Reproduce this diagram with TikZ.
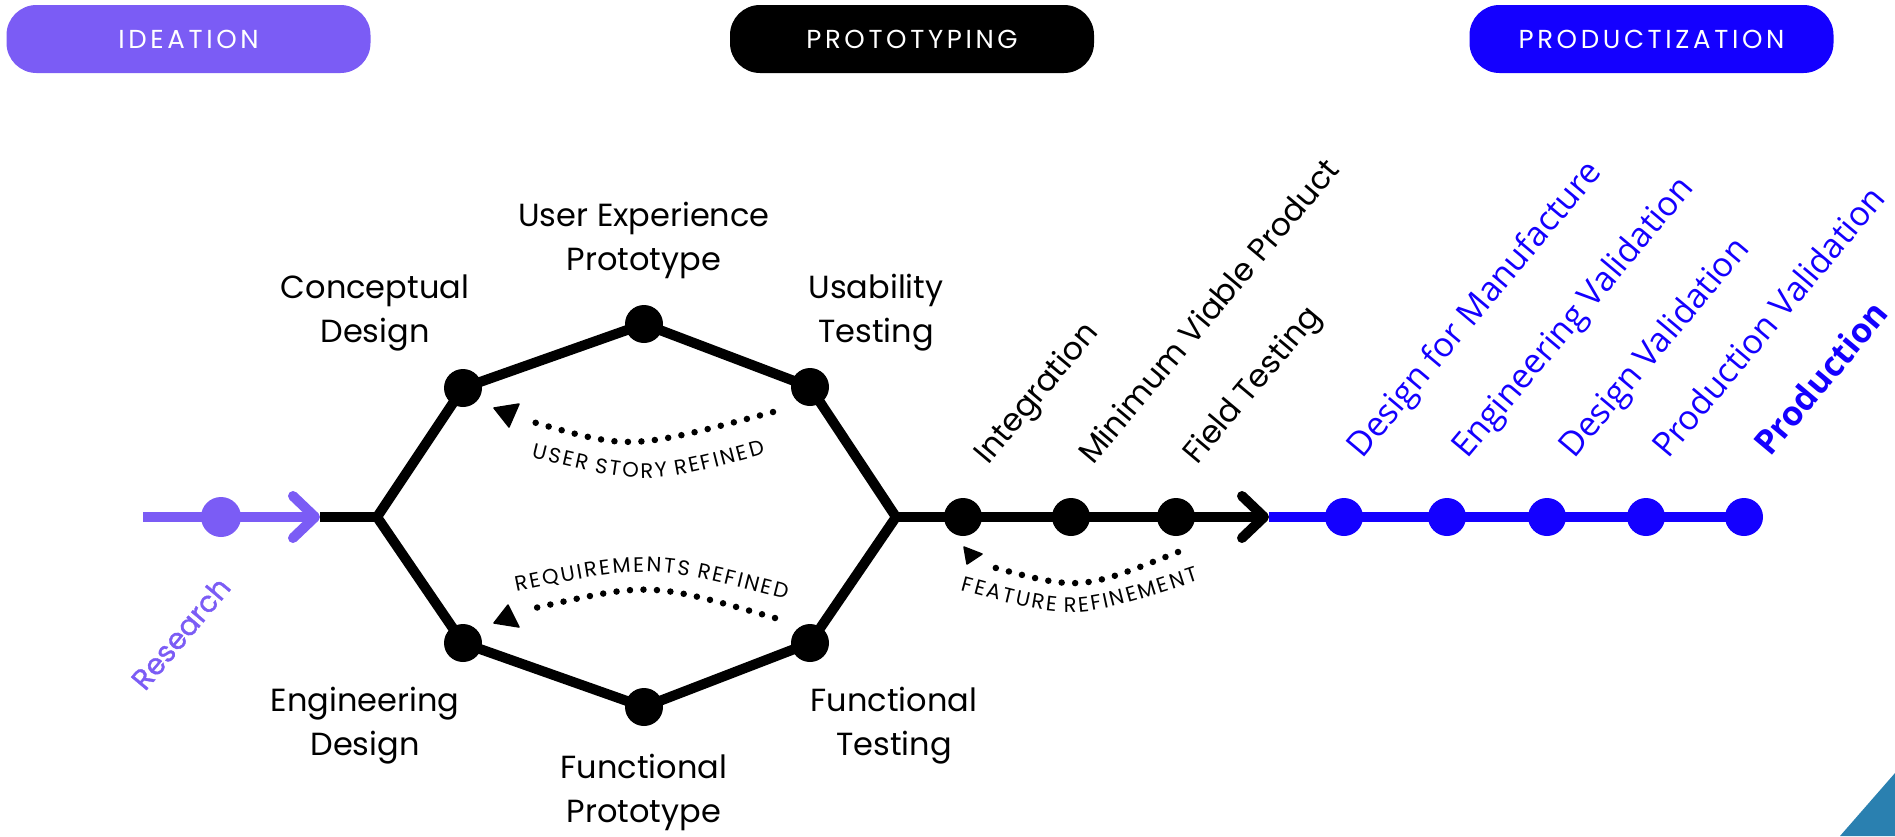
\documentclass[tikz,border=0pt]{standalone}
\usepackage{fontspec}
\setmainfont{Poppins}
\newfontfamily\lab{Poppins}
\newfontfamily\labm[FakeBold=1.2]{Poppins}
\newfontfamily\blu{Open Sans}
\newfontfamily\pillf[LetterSpace=14]{Poppins}
\newfontfamily\arcf{Poppins}
\newcommand\lk{\kern2.2pt}
\usetikzlibrary{arrows.meta,decorations.text,backgrounds}
\definecolor{ideaC}{HTML}{7B5CF5}
\definecolor{prodC}{HTML}{1400FF}
\definecolor{cornerC}{HTML}{2A80B0}
\begin{document}
\begin{tikzpicture}[x=1pt,y=-1pt,
  lbl/.style={font=\lab\fontsize{32}{44}\selectfont, align=center, text=black, inner sep=0pt},
  rlbl/.style={font=\lab\fontsize{31.5}{36}\selectfont, anchor=base west, rotate=50, inner sep=0pt},
  blbl/.style={font=\blu\fontsize{34}{40}\selectfont, text=prodC, anchor=base west, rotate=50, inner sep=0pt},
  pillbox/.style={rounded corners=30pt, minimum width=364pt, minimum height=68pt, text=white, inner sep=0pt, font=\pillf\fontsize{26}{30}\selectfont},
  bdot/.style={circle, fill=black, minimum size=38pt, inner sep=0pt},
  edge/.style={line width=10pt},
  dots/.style={line width=6.5pt, line cap=round, dash pattern=on 0pt off 13.5pt},
  tri/.style={fill=black, line join=round, draw=black, line width=1.5pt},
  barb/.style={-{Straight Barb[length=22pt,width=42pt,round]}}
]
\useasboundingbox (0,0) rectangle (1895,836);
% corner triangle
\fill[cornerC] (1895,773) -- (1840,836) -- (1895,836) -- cycle;

% phase pills
\node[pillbox, fill=ideaC] (pIdea) at (188.5,39) {IDEATION};
\node[pillbox, fill=black] (pProto) at (912,39) {PROTOTYPING};
\node[pillbox, fill=prodC] (pProd) at (1651.5,39) {PRODUCTIZATION};

% key coordinates
\coordinate (cStart) at (143,517);
\coordinate (cTipL) at (320,517);
\coordinate (cLV) at (377,517);
\coordinate (cRV) at (896,517);
\coordinate (cTipR) at (1269,517);

% dots
\node[bdot, fill=ideaC, minimum size=40pt] (nRes) at (221,517) {};
\node[bdot] (nUL) at (463,388) {};
\node[bdot] (nTop) at (644,324) {};
\node[bdot] (nUR) at (810,387) {};
\node[bdot] (nLR) at (810,643) {};
\node[bdot] (nBot) at (644,707) {};
\node[bdot] (nLL) at (463,643) {};
\node[bdot] (nInt) at (963,517) {};
\node[bdot] (nMvp) at (1071,517) {};
\node[bdot] (nField) at (1176,517) {};
\node[bdot, fill=prodC] (nDfm) at (1344,517) {};
\node[bdot, fill=prodC] (nEv) at (1447,517) {};
\node[bdot, fill=prodC] (nDv) at (1547,517) {};
\node[bdot, fill=prodC] (nPv) at (1646,517) {};
\node[bdot, fill=prodC] (nProd) at (1744,517) {};

\begin{scope}[on background layer]
\draw[edge, ideaC, barb] (cStart) -- (cTipL);
\draw[edge] (cTipL) -- (cLV);
\draw[edge, line join=miter] (cLV) -- (nUL.center) -- (nTop.center) -- (nUR.center) -- (cRV)
  -- (nLR.center) -- (nBot.center) -- (nLL.center) -- cycle;
\draw[edge, barb] (cRV) -- (cTipR);
\draw[edge, prodC] (cTipR) -- (nProd.center);
\end{scope}

% hexagon labels
\node[lbl] (tUX) at (644,240) {User Experience\\Prototype};
\node[lbl] (tCD) at (375,313) {Conceptual\\Design};
\node[lbl] (tUT) at (876,313) {Usability\\Testing};
\node[lbl] (tED) at (365,726) {Engineering\\Design};
\node[lbl] (tFT) at (894,726) {Functional\\Testing};
\node[lbl] (tFP) at (644,792) {Functional\\Prototype};

% rotated labels
\node[rlbl, text=ideaC, font=\labm\fontsize{29}{35}\selectfont] (tRes) at (145,692) {Research};
\node[rlbl] (tInt) at (988,466) {Integration};
\node[rlbl] (tMvp) at (1093,466) {Minimum Viable Product};
\node[rlbl] (tFld) at (1197,466) {Field Testing};
\node[blbl] (tDfm) at (1362,460) {Design for Manufacture};
\node[blbl] (tEv) at (1467,460) {Engineering Validation};
\node[blbl] (tDv) at (1574,460) {Design Validation};
\node[blbl] (tPv) at (1668,460) {Production Validation};
\node[blbl, font=\blu\bfseries\fontsize{34}{40}\selectfont] (tProd) at (1770,458) {Production};

% feedback loops
\coordinate (uS) at (773,412); \coordinate (uE) at (533,422);
\draw[dots] (uS) .. controls (630,450) .. (uE);
\path[tri] (494,408) -- (519,404) -- (509,427) -- cycle;
\path[decorate, decoration={text along path, text align=center,
  text={|\arcf\fontsize{21}{24}\selectfont|{U\lk}{S\lk}{E\lk}{R\lk} {S\lk}{T\lk}{O\lk}{R\lk}{Y\lk} {R\lk}{E\lk}{F\lk}{I\lk}{N\lk}{E\lk}D}}]
  (525,456) .. controls (648,486) .. (772,452);

\coordinate (rS) at (775,618); \coordinate (rE) at (535,608);
\draw[dots] (rS) .. controls (650,582) .. (rE);
\path[tri] (494,623) -- (508,605) -- (519,627) -- cycle;
\path[decorate, decoration={text along path, text align=center,
  text={|\arcf\fontsize{21}{24}\selectfont|{R\lk}{E\lk}{Q\lk}{U\lk}{I\lk}{R\lk}{E\lk}{M\lk}{E\lk}{N\lk}{T\lk}{S\lk} {R\lk}{E\lk}{F\lk}{I\lk}{N\lk}{E\lk}D}}]
  (513,592) .. controls (650,564) .. (790,600);

\coordinate (fS) at (1178,552); \coordinate (fE) at (985,565);
\draw[dots] (fS) .. controls (1080,591) .. (fE);
\path[tri] (964,547) -- (982,554) -- (967,564) -- cycle;
\path[decorate, decoration={text along path, text align=center,
  text={|\arcf\fontsize{21}{24}\selectfont|{F\lk}{E\lk}{A\lk}{T\lk}{U\lk}{R\lk}{E\lk} {R\lk}{E\lk}{F\lk}{I\lk}{N\lk}{E\lk}{M\lk}{E\lk}{N\lk}T}}]
  (960,590) .. controls (1075,621) .. (1200,580);
\end{tikzpicture}
\end{document}
